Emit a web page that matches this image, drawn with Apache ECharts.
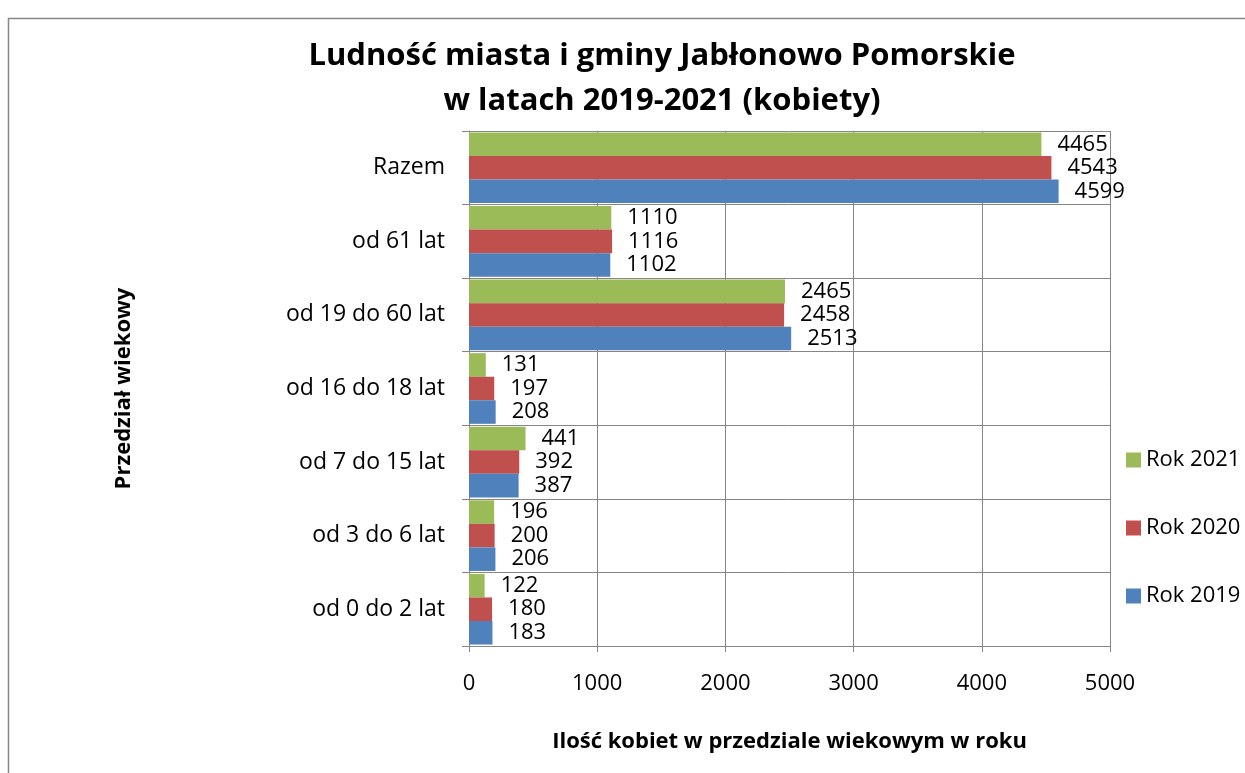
<!DOCTYPE html>
<html><head><meta charset="utf-8">
<script src="https://cdn.jsdelivr.net/npm/echarts@6/dist/echarts.min.js"></script>
<style>html,body{margin:0;padding:0;background:#fff}#c{width:1245px;height:773px}</style>
</head><body><div id="c"></div>
<script>
const categories = ['od 0 do 2 lat','od 3 do 6 lat','od 7 do 15 lat','od 16 do 18 lat','od 19 do 60 lat','od 61 lat','Razem'];
const rok2019 = [183, 206, 387, 208, 2513, 1102, 4599];
const rok2020 = [180, 200, 392, 197, 2458, 1116, 4543];
const rok2021 = [122, 196, 441, 131, 2465, 1110, 4465];
const xTicks = [0, 1000, 2000, 3000, 4000, 5000];

const FONT = '"Open Sans", "Noto Sans", sans-serif';
const chart = echarts.init(document.getElementById('c'));
const lbl = {show:true, position:'right', distance:16, color:'#000', fontSize:22, fontFamily:FONT};
function ser(name, data, color){
  return {name, type:'bar', data, barGap:'0%', barCategoryGap:'4%',
    itemStyle:{color}, label:lbl, emphasis:{disabled:true}};
}
chart.setOption({
  animation:false,
  textStyle:{fontFamily:FONT},
  title:{text:'Ludność miasta i gminy Jabłonowo Pomorskie\nw latach 2019-2021 (kobiety)',
    left:657, top:29, textAlign:'center',
    textStyle:{fontSize:31, fontWeight:'bold', color:'#000', lineHeight:45, fontFamily:FONT}},
  graphic:[{type:'rect', shape:{x:8.5,y:18.5,width:1300,height:900}, style:{fill:'none', stroke:'#888', lineWidth:1.5}}],
  legend:{orient:'vertical', left:1121, top:444, itemGap:46, itemWidth:15, itemHeight:15,
    icon:'rect', data:['Rok 2021','Rok 2020','Rok 2019'],
    textStyle:{fontSize:22, color:'#000', fontFamily:FONT}},
  grid:{left:469, right:135, top:131, bottom:127},
  xAxis:{type:'value', min:0, max:5000, interval:1000,
    axisLine:{show:true, lineStyle:{color:'#868686'}},
    axisTick:{show:true, length:6, lineStyle:{color:'#868686'}},
    splitLine:{show:true, lineStyle:{color:'#868686', width:1}},
    axisLabel:{fontSize:22, color:'#000', margin:27, fontFamily:FONT,
      formatter:v=>xTicks.includes(v)?String(v):''},
    name:'Ilość kobiet w przedziale wiekowym w roku', nameLocation:'middle', nameGap:85,
    nameTextStyle:{fontSize:22, fontWeight:'bold', color:'#000', fontFamily:FONT}},
  yAxis:{type:'category', data:categories,
    axisLine:{show:true, lineStyle:{color:'#868686'}},
    axisTick:{show:true, length:7, lineStyle:{color:'#868686'}},
    splitLine:{show:true, lineStyle:{color:'#868686', width:1}},
    axisLabel:{fontSize:23, color:'#000', margin:24, fontFamily:FONT},
    name:'Przedział wiekowy', nameLocation:'middle', nameGap:334, nameRotate:90,
    nameTextStyle:{fontSize:22, fontWeight:'bold', color:'#000', fontFamily:FONT}},
  series:[ser('Rok 2021', rok2021, '#9BBB59'), ser('Rok 2020', rok2020, '#C0504D'), ser('Rok 2019', rok2019, '#4F81BD')]
});
</script></body></html>
